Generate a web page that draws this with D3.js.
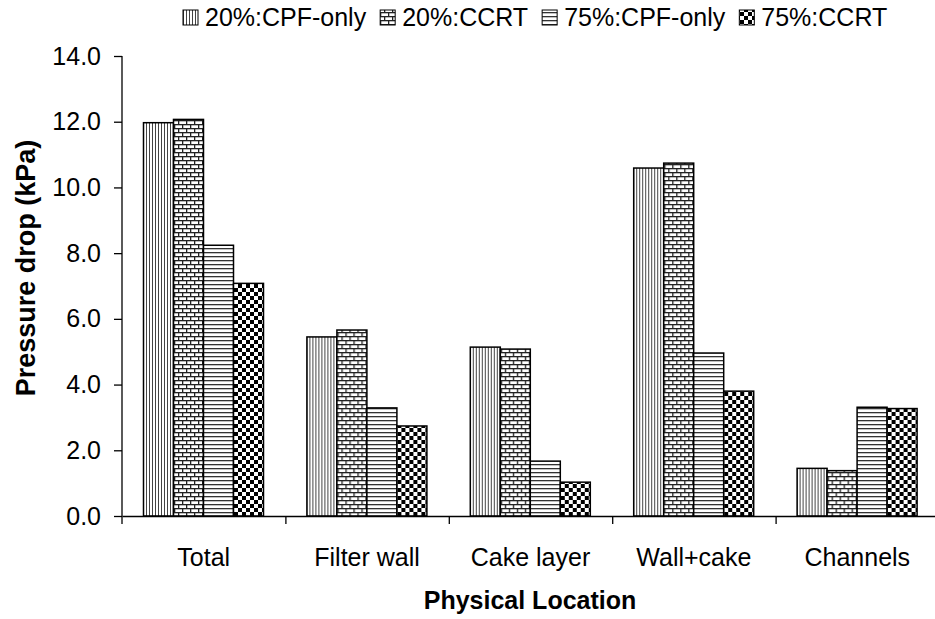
<!DOCTYPE html>
<html>
<head>
<meta charset="utf-8">
<script src="https://cdn.jsdelivr.net/npm/d3@7"></script>
<style>
  body { margin: 0; background: #fff; }
  text { font-family: Arial, "Liberation Sans", sans-serif; fill: #000; }
</style>
</head>
<body>
<div id="chart"></div>
<script>
// Data
const categories = ['Total', 'Filter wall', 'Cake layer', 'Wall+cake', 'Channels'];
const seriesNames = ['20%:CPF-only', '20%:CCRT', '75%:CPF-only', '75%:CCRT'];
const cpf20 = [11.97, 5.45, 5.14, 10.59, 1.45];
const ccrt20 = [12.07, 5.66, 5.08, 10.74, 1.38];
const cpf75 = [8.24, 3.29, 1.67, 4.96, 3.31];
const ccrt75 = [7.08, 2.74, 1.03, 3.80, 3.27];
const yTicks = [0, 2, 4, 6, 8, 10, 12, 14];

const seriesValues = [cpf20, ccrt20, cpf75, ccrt75];

function buildChart() {
  const width = 935;
  const height = 619;

  const svg = d3.select('#chart').append('svg')
    .attr('width', width)
    .attr('height', height);

  // Patterns
  const defs = svg.append('defs');

  const pVert = defs.append('pattern').attr('id', 'pat0')
    .attr('patternUnits', 'userSpaceOnUse').attr('width', 3).attr('height', 3);
  pVert.append('rect').attr('width', 3).attr('height', 3).attr('fill', '#fff');
  pVert.append('rect').attr('x', 0).attr('width', 1).attr('height', 3).attr('fill', '#444');

  const pBrick = defs.append('pattern').attr('id', 'pat1')
    .attr('patternUnits', 'userSpaceOnUse').attr('width', 8).attr('height', 8);
  pBrick.append('rect').attr('width', 8).attr('height', 8).attr('fill', '#fff');
  pBrick.append('rect').attr('y', 0).attr('width', 8).attr('height', 1.3).attr('fill', '#222');
  pBrick.append('rect').attr('y', 4).attr('width', 8).attr('height', 1.3).attr('fill', '#222');
  pBrick.append('rect').attr('x', 0).attr('y', 0).attr('width', 1.3).attr('height', 4).attr('fill', '#222');
  pBrick.append('rect').attr('x', 4).attr('y', 4).attr('width', 1.3).attr('height', 4).attr('fill', '#222');

  const pHoriz = defs.append('pattern').attr('id', 'pat2')
    .attr('patternUnits', 'userSpaceOnUse').attr('width', 4).attr('height', 4);
  pHoriz.append('rect').attr('width', 4).attr('height', 4).attr('fill', '#fff');
  pHoriz.append('rect').attr('y', 0).attr('width', 4).attr('height', 1.3).attr('fill', '#333');

  const pCheck = defs.append('pattern').attr('id', 'pat3')
    .attr('patternUnits', 'userSpaceOnUse').attr('width', 8).attr('height', 8);
  pCheck.append('rect').attr('width', 8).attr('height', 8).attr('fill', '#fff');
  pCheck.append('rect').attr('width', 4).attr('height', 4).attr('fill', '#000');
  pCheck.append('rect').attr('x', 4).attr('y', 4).attr('width', 4).attr('height', 4).attr('fill', '#000');

  // Scales
  const left = 122;
  const right = 939;
  const top = 56;
  const bottom = 516;

  const x0 = d3.scaleBand().domain(categories).range([left, right]);
  const x1 = d3.scaleBand().domain(seriesNames).range([21.5, 21.5 + 120]);
  const y = d3.scaleLinear().domain([0, 14]).range([bottom, top]);

  // Bars
  const groups = svg.append('g').selectAll('g')
    .data(categories)
    .enter()
    .append('g')
    .attr('transform', (d) => `translate(${x0(d)},0)`);

  groups.selectAll('rect')
    .data((d, i) => seriesNames.map((s, j) => ({ s: s, j: j, v: seriesValues[j][i] })))
    .enter()
    .append('rect')
    .attr('x', (d) => x1(d.s))
    .attr('y', (d) => y(d.v))
    .attr('width', x1.bandwidth())
    .attr('height', (d) => bottom - y(d.v))
    .attr('fill', (d) => `url(#pat${d.j})`)
    .attr('stroke', '#000')
    .attr('stroke-width', 1.5);

  // Y axis
  const yAxis = d3.axisLeft(y)
    .tickValues(yTicks)
    .tickFormat(d3.format('.1f'))
    .tickSize(8)
    .tickPadding(13);

  const gy = svg.append('g')
    .attr('transform', `translate(${left},0)`)
    .call(yAxis);
  gy.select('.domain').attr('d', `M0,${top}V${bottom + 8}`);
  gy.selectAll('text').attr('font-size', 25).attr('font-family', 'Arial, "Liberation Sans", sans-serif');

  // X axis
  const xAxis = d3.axisBottom(d3.scaleLinear().domain([0, 5]).range([left, right]))
    .tickValues([1, 2, 3, 4])
    .tickFormat('')
    .tickSize(8)
    .tickSizeOuter(0);

  svg.append('g')
    .attr('transform', `translate(0,${bottom})`)
    .call(xAxis);

  svg.append('g').selectAll('text')
    .data(categories)
    .enter()
    .append('text')
    .attr('x', (d) => x0(d) + x0.bandwidth() / 2)
    .attr('y', 566)
    .attr('text-anchor', 'middle')
    .attr('font-size', 25)
    .text((d) => d);

  svg.selectAll('.domain, .tick line').attr('stroke', '#000').attr('stroke-width', 1.3);

  // Axis titles
  svg.append('text')
    .attr('x', 530)
    .attr('y', 609)
    .attr('text-anchor', 'middle')
    .attr('font-size', 25)
    .attr('font-weight', 'bold')
    .text('Physical Location');

  svg.append('text')
    .attr('transform', 'translate(35,268) rotate(-90)')
    .attr('text-anchor', 'middle')
    .attr('font-size', 27)
    .attr('font-weight', 'bold')
    .text('Pressure drop (kPa)');

  // Legend
  const legend = svg.append('g');
  let lx = 183;
  seriesNames.forEach((name, j) => {
    legend.append('rect')
      .attr('x', lx)
      .attr('y', 10)
      .attr('width', 15)
      .attr('height', 15)
      .attr('fill', `url(#pat${j})`)
      .attr('stroke', '#000')
      .attr('stroke-width', 1);
    const t = legend.append('text')
      .attr('x', lx + 22)
      .attr('y', 26)
      .attr('font-size', 25)
      .text(name);
    lx += 22 + t.node().getComputedTextLength() + 14;
  });
}

buildChart();
</script>
</body>
</html>
